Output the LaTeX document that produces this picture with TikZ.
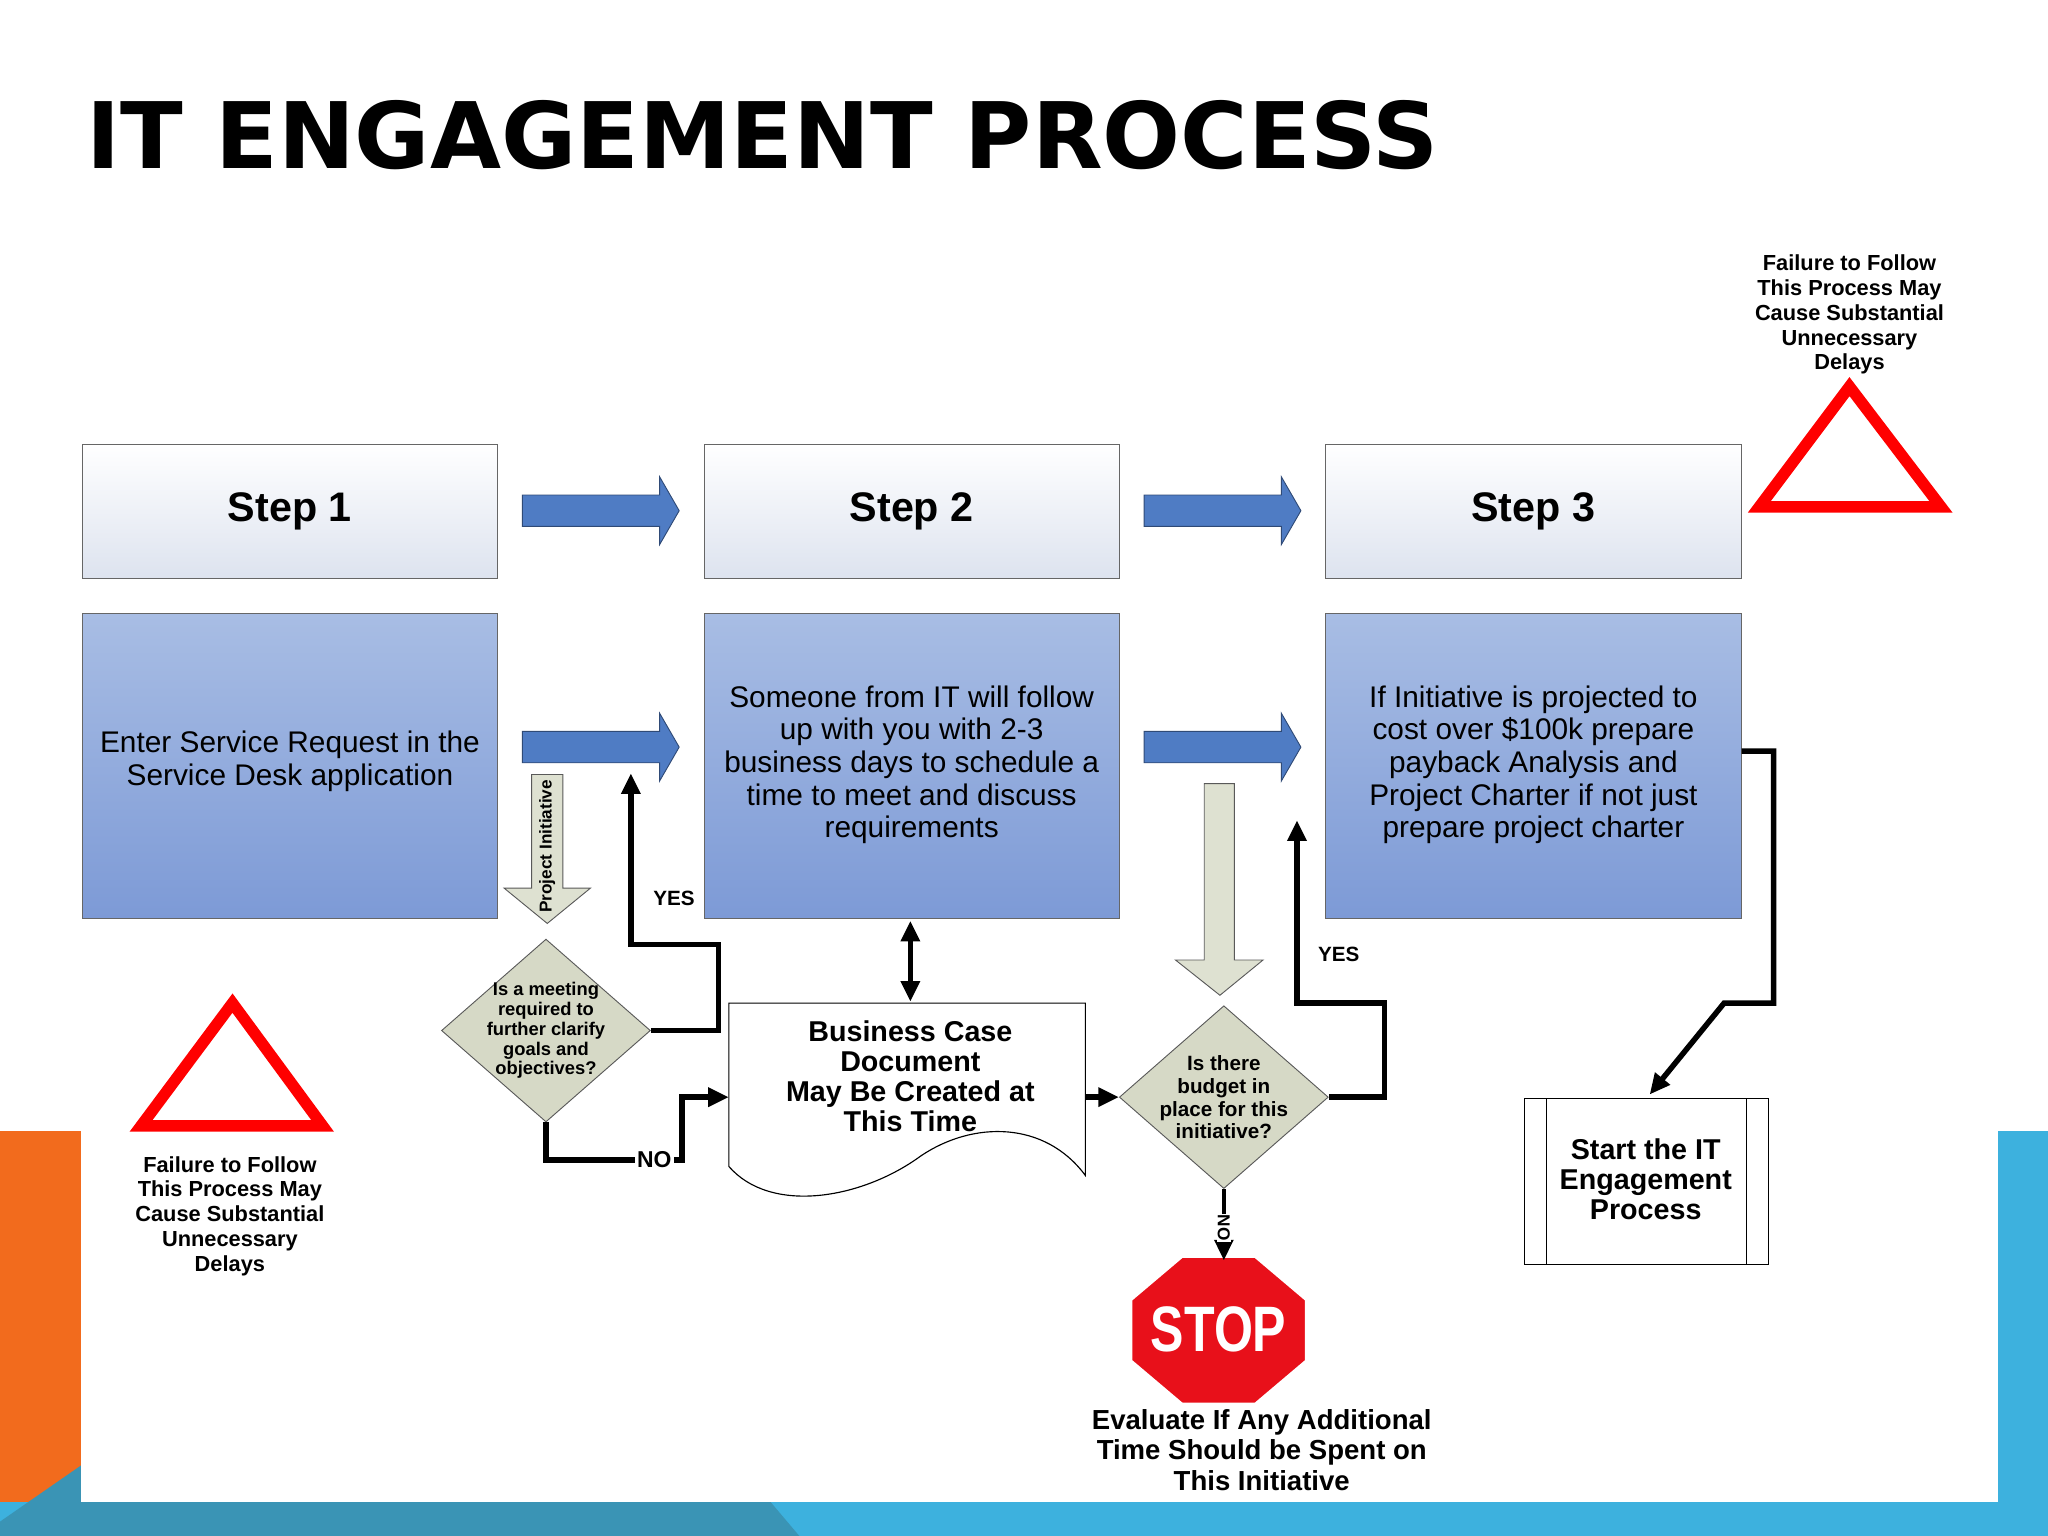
\documentclass[tikz,border=0pt]{standalone}
\usepackage{fontspec}
\setmainfont{Liberation Sans}
\newfontfamily\titlefont{DejaVu Sans}
\usetikzlibrary{arrows.meta,shapes.geometric}
\definecolor{orng}{HTML}{F26B1D}
\definecolor{lblue}{HTML}{3DB1DE}
\definecolor{dblue}{HTML}{3A94B5}
\definecolor{barrow}{HTML}{4F7CC4}
\definecolor{sage}{HTML}{D6D9C6}
\definecolor{stopred}{HTML}{E8101A}
\tikzset{
 stepbox/.style={draw=gray!80!black, minimum width=6.36cm, minimum height=2.06cm, top color=white, bottom color={rgb,255:red,221;green,227;blue,239}, font=\fontsize{18}{20}\selectfont\bfseries},
 cbox/.style={draw=gray!80!black, minimum width=6.36cm, minimum height=4.66cm, shading=axis, top color={rgb,255:red,168;green,189;blue,228}, middle color={rgb,255:red,214;green,224;blue,242}, bottom color={rgb,255:red,125;green,154;blue,214}, font=\fontsize{13}{14.2}\selectfont, align=center},
 bluearrow/.style={fill=barrow, draw=barrow!60!black, line width=0.4pt},
 grayarrow/.style={fill=sage!80!white, draw=gray!70!black, line width=0.4pt},
 dia/.style={diamond, draw=gray!70!black, fill=sage, minimum width=3.2cm, minimum height=2.8cm, inner sep=0pt},
 dtext/.style={font=\fontsize{8}{8.6}\selectfont\bfseries, align=center},
 conn/.style={line width=2.4pt, -{Triangle[length=9pt,width=8pt]}},
 lbl/.style={font=\fontsize{9.5}{10.8}\selectfont\bfseries, align=center},
 small/.style={font=\fontsize{12}{13}\selectfont\bfseries, align=center},
 warn/.style={draw=red, line width=5pt, line join=miter},
}
\begin{document}
\begin{tikzpicture}[x=0.02cm,y=-0.02cm]
\useasboundingbox (0,0) rectangle (1568,1176);
% background
\fill[orng] (0,866) rectangle (62,1176);
\fill[lblue] (1530,866) rectangle (1568,1176);
\fill[lblue] (0,1150) rectangle (1568,1176);
\fill[dblue] (0,1176) -- (0,1165) -- (62,1122) -- (62,1150) -- (590,1150) -- (612,1176) -- cycle;
\fill[white] (62,866) rectangle (1530,1150);
% title
\node[anchor=base west, font=\titlefont\fontsize{40}{44}\selectfont\bfseries, inner sep=0] (title) at (66,129) {IT ENGAGEMENT PROCESS};
% step boxes
\node[stepbox] (s1) at (222,391.5) {Step 1};
\node[stepbox] (s2) at (698,391.5) {Step 2};
\node[stepbox] (s3) at (1174,391.5) {Step 3};
\node[cbox] (c1) at (222,586.5) {\raisebox{0.5cm}{\begin{tabular}{@{}c@{}}Enter Service Request in the\\Service Desk application\end{tabular}}};
\node[cbox] (c2) at (698,586.5) {\raisebox{0.3cm}{\begin{tabular}{@{}c@{}}Someone from IT will follow\\up with you with 2-3\\business days to schedule a\\time to meet and discuss\\requirements\end{tabular}}};
\node[cbox] (c3) at (1174,586.5) {\raisebox{0.3cm}{\begin{tabular}{@{}c@{}}If Initiative is projected to\\cost over \$100k prepare\\payback Analysis and\\Project Charter if not just\\prepare project charter\end{tabular}}};
% blue block arrows
\foreach \x/\y in {400/391, 876/391, 400/572, 876/572}{
 \draw[bluearrow] (\x,\y-12) -- (\x+105,\y-12) -- (\x+105,\y-26) -- (\x+120,\y) -- (\x+105,\y+26) -- (\x+105,\y+12) -- (\x,\y+12) -- cycle;
}
% project initiative arrow
\draw[grayarrow] (407,593) -- (431,593) -- (431,680) -- (452,680) -- (419,707) -- (386,680) -- (407,680) -- cycle;
\node[rotate=90, font=\fontsize{7.5}{8}\selectfont\bfseries] (pi) at (419,648) {Project Initiative};
% budget down arrow
\draw[grayarrow] (922,600) -- (945,600) -- (945,735) -- (967,735) -- (934,762) -- (900,735) -- (922,735) -- cycle;
% diamonds
\node[dia] (d1) at (418,789) {};
\node[dtext] (d1t) at (418,789) {Is a meeting\\required to\\further clarify\\goals and\\objectives?};
\node[dia] (d2) at (937,840) {};
\node[dtext, font=\fontsize{9}{10}\selectfont\bfseries] (d2t) at (937,840) {Is there\\budget in\\place for this\\initiative?};
% document
\draw[fill=white, draw=black, line width=0.5pt] (558,768) -- (831,768) -- (831,900) .. controls (800,858) and (745,858) .. (705,885) .. controls (660,918) and (590,930) .. (558,893) -- cycle;
\node[small, font=\fontsize{12.5}{13.2}\selectfont\bfseries] (doct) at (697,824) {Business Case\\Document\\May Be Created at\\This Time};
\coordinate (docL) at (558,840);
\coordinate (docR) at (831,840);
% connectors
\draw[line width=2.4pt, {Triangle[length=9pt,width=8pt]}-{Triangle[length=9pt,width=8pt]}] (697,705) -- (697,767);
\draw[conn] (d1.east) -- (550,789) -- (550,723) -- (483,723) -- (483,592);
\node[lbl, font=\fontsize{9}{10}\selectfont\bfseries] (yes1) at (516,688) {YES};
\draw[conn] (d1.south) -- (418,888) -- (522,888) -- (522,840) -- (docL);
\node[lbl, fill=white, inner sep=1pt, font=\fontsize{10}{10}\selectfont\bfseries] (no1) at (501,888) {NO};
\draw[conn] (docR) -- (d2.west);
\draw[conn] (d2.east) -- (1060,840) -- (1060,768) -- (993,768) -- (993,628);
\node[lbl, font=\fontsize{9}{10}\selectfont\bfseries] (yes2) at (1025,731) {YES};
% stop sign
\coordinate (stop) at (933,1018);
\coordinate (stoptop) at (937,965);
\draw[fill=stopred, draw=white, line width=1.2pt] (905,962) -- (961,962) -- (1000,995) -- (1000,1042) -- (961,1075) -- (905,1075) -- (866,1042) -- (866,995) -- cycle;
\node[text=white, font=\fontsize{28}{30}\selectfont\bfseries, xscale=0.78] (stopt) at (stop) {STOP};
\draw[conn, line width=2pt] (d2.south) -- (stoptop);
\node[rotate=-90, fill=white, inner sep=0.5pt, font=\fontsize{7.5}{8}\selectfont\bfseries] (no2) at (937,940) {NO};
\node[small, font=\fontsize{12}{13.3}\selectfont\bfseries] (eval) at (966,1110) {Evaluate If Any Additional\\Time Should be Spent on\\This Initiative};
% start box
\node[draw=black, line width=0.6pt, minimum width=3.74cm, minimum height=2.54cm, inner sep=0] (start) at (1260.5,904.5) {};
\draw[line width=0.5pt] (1184,841) -- (1184,968) (1337,841) -- (1337,968);
\node[small, font=\fontsize{12.5}{13.2}\selectfont\bfseries] (startt) at (1260,903) {Start the IT\\Engagement\\Process};
\draw[line width=2.4pt, -{Triangle[length=9pt,width=8pt]}] (c3.east |- 0,575) -- (1358,575) -- (1358,768) -- (1320,768) -- (1263,838);
% warning triangles
\draw[warn] (1416,296) -- (1486,388) -- (1347,388) -- cycle;
\draw[warn] (178,768) -- (247,862) -- (108,862) -- cycle;
\node[lbl] (w1) at (1416,241) {Failure to Follow\\This Process May\\Cause Substantial\\Unnecessary\\Delays};
\node[lbl] (w2) at (176,931) {Failure to Follow\\This Process May\\Cause Substantial\\Unnecessary\\Delays};
\end{tikzpicture}
\end{document}
